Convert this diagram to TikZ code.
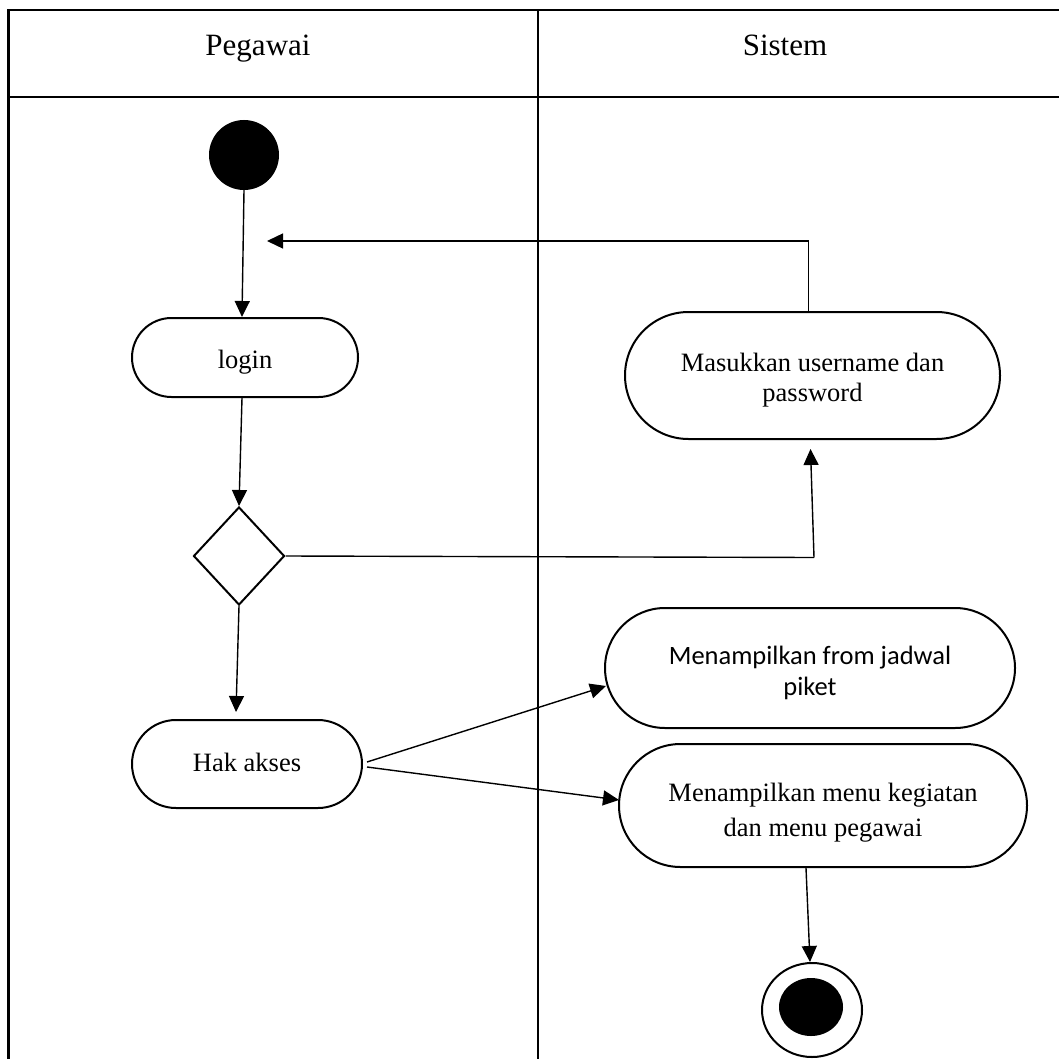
\documentclass[tikz,border=0pt]{standalone}
\usepackage{fontspec}
\setmainfont{Liberation Serif}
\newfontfamily\calib{Carlito}
\usetikzlibrary{shapes.misc,shapes.geometric,arrows.meta}

\tikzset{
  lane/.style={line width=2.5pt},
  act/.style={rounded rectangle, draw, line width=2pt, inner sep=0pt},
  txt/.style={align=center, inner sep=0pt, font=\fontsize{26.5}{30}\selectfont},
  arr/.style={line width=1.4pt, -{Triangle[length=16pt,width=15pt]}},
  ln/.style={line width=1.4pt},
  head/.style={anchor=base, font=\fontsize{31}{36}\selectfont},
}

\begin{document}
\begin{tikzpicture}[x=1pt,y=-1pt]
\useasboundingbox (0,0) rectangle (1059,1059);
\fill[white] (0,0) rectangle (1059,1059);

% swimlane frame
\draw[lane] (1059,10) -- (8.5,10) -- (8.5,1059);
\draw[lane] (8.5,97) -- (1059,97);
\draw[lane] (538,10) -- (538,1059);
\node[head] (hpeg) at (258,56) {Pegawai};
\node[head] (hsis) at (785,56) {Sistem};

% activity nodes
\node[circle, fill=black, minimum size=70pt, inner sep=0pt] (start) at (244,155) {};
\node[act, minimum width=226pt, minimum height=79pt,
      label={[txt, yshift=-5pt]center:login}] (login) at (245,357.5) {};
\node[diamond, draw, line width=2pt, inner sep=0pt, minimum width=91pt, minimum height=98pt] (dec) at (239,556) {};
\node[act, minimum width=230pt, minimum height=88pt,
      label={[txt, yshift=2pt]center:Hak akses}] (hak) at (247,764) {};
\node[act, minimum width=375pt, minimum height=127pt,
      label={[txt, yshift=-5pt]center:{Masukkan username dan\\password}}] (masuk) at (812.5,375.5) {};
\node[act, minimum width=410pt, minimum height=120pt,
      label={[txt, font=\calib\fontsize{26.5}{31}\selectfont, yshift=-5pt]center:{Menampilkan from jadwal\\piket}}] (jadwal) at (810,668) {};
\node[act, minimum width=408pt, minimum height=123pt,
      label={[txt, font=\fontsize{26.5}{35}\selectfont, yshift=-7pt]center:{Menampilkan menu kegiatan\\dan menu pegawai}}] (menu) at (823,805.5) {};

% final node
\node[ellipse, draw, line width=2pt, minimum width=100pt, minimum height=94pt, inner sep=0pt] (endo) at (812,1010) {};
\node[ellipse, fill=black, minimum width=64pt, minimum height=58pt, inner sep=0pt] (endi) at (811,1007) {};

% flows
\coordinate (back) at (267,241);
\coordinate (turn) at (814,557.5);
\draw[arr] (start.south) -- ([xshift=-3pt]login.north);
\draw[arr] ([xshift=-4pt]masuk.north) |- (back);
\draw[arr] ([xshift=-3pt]login.south) -- (dec.north);
\draw[ln] (dec.east) -- (turn);
\draw[arr] (turn) -- ([xshift=-2pt,yshift=-9pt]masuk.south);
\draw[arr] (dec.south) -- ([xshift=-11pt,yshift=7pt]hak.north);
\draw[arr] ([xshift=4pt,yshift=2pt]hak.east) -- ([xshift=2pt,yshift=-18pt]jadwal.west);
\draw[arr] ([xshift=4pt,yshift=-3pt]hak.east) -- ([xshift=1pt,yshift=5.5pt]menu.west);
\draw[arr] ([xshift=-17pt]menu.south) -- ([xshift=-2pt]endo.north);
\end{tikzpicture}
\end{document}
